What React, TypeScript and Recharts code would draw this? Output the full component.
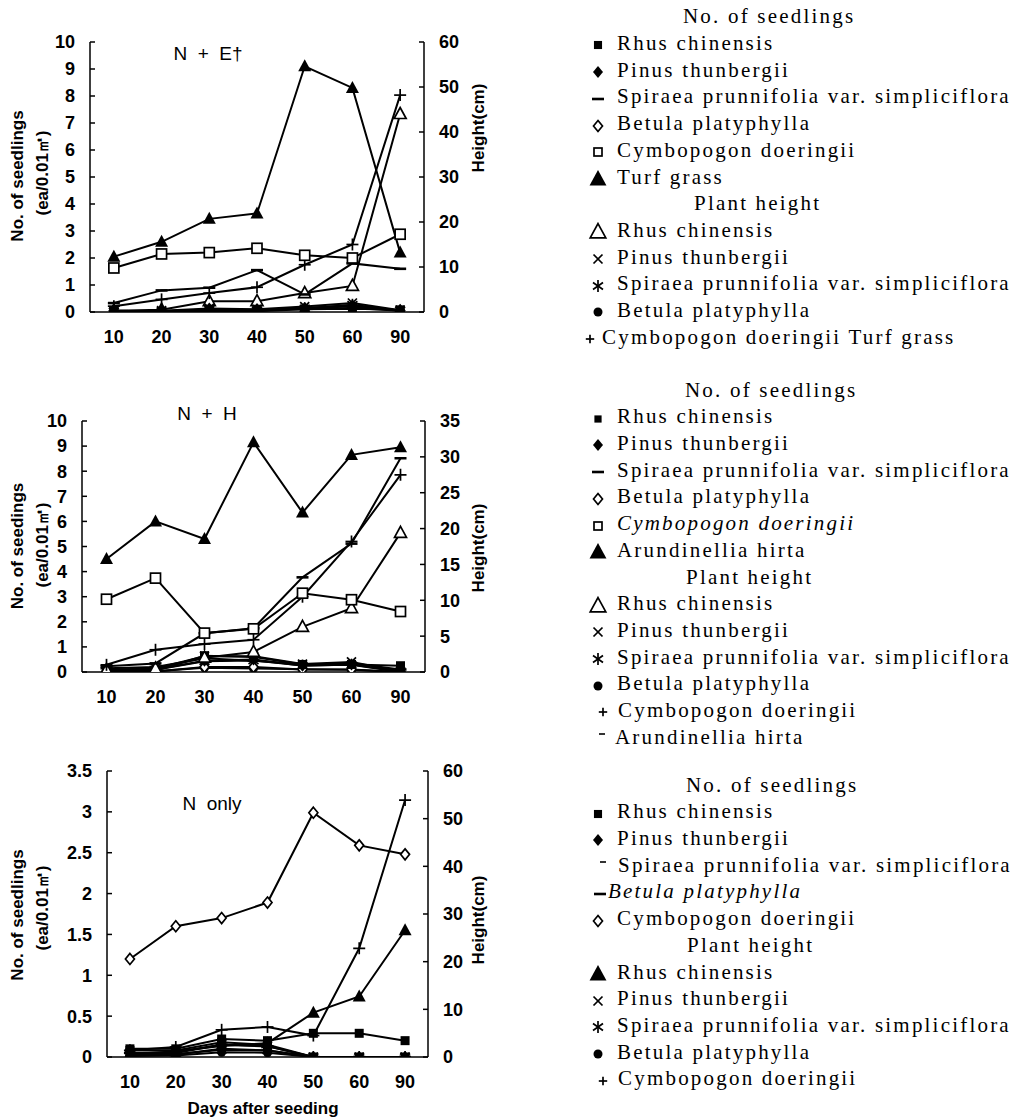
import React from 'react';
import { ComposedChart, Line, XAxis, YAxis } from 'recharts';

const days = ['10', '20', '30', '40', '50', '60', '90'];

// ---------- Panel 1: N + E† (seedlings: ea/0.01m², height: cm) ----------
const neRhusN = [0.05, 0.02, 0.05, 0.03, 0.1, 0.12, 0.08];
const nePinusN = [0.02, 0.0, 0.08, 0.05, 0.15, 0.25, 0.05];
const neSpiraeaN = [0.33, 0.8, 0.9, 1.55, 0.65, 1.8, 1.6];
const neBetulaN = [0.05, 0.02, 0.1, 0.08, 0.1, 0.15, 0.05];
const neCymboN = [1.63, 2.15, 2.2, 2.36, 2.1, 2.0, 2.88];
const neTurfN = [2.05, 2.6, 3.45, 3.65, 9.1, 8.3, 2.2];
const neRhusH = [0.3, 0.5, 2.4, 2.4, 4.2, 5.8, 44];
const nePinusH = [0.2, 0.3, 0.8, 0.6, 1.2, 2.0, 0.4];
const neSpiraeaH = [0.1, 0.2, 0.5, 0.4, 0.8, 1.6, 0.3];
const neBetulaH = [0.1, 0.1, 0.4, 0.3, 0.9, 1.2, 0.3];
const neCymboH = [1.3, 2.8, 4.2, 5.5, 10.5, 15, 48.2];

// ---------- Panel 2: N + H ----------
const nhRhusN = [0.1, 0.05, 0.65, 0.6, 0.3, 0.3, 0.25];
const nhPinusN = [0.05, 0.1, 0.45, 0.5, 0.25, 0.3, 0.02];
const nhSpiraeaN = [0.15, 0.2, 0.55, 0.45, 0.3, 0.35, 0.1];
const nhBetulaN = [0.02, 0.02, 0.2, 0.2, 0.1, 0.1, 0.0];
const nhCymboN = [2.9, 3.74, 1.55, 1.72, 3.14, 2.88, 2.41];
const nhArundN = [4.5, 6.0, 5.3, 9.15, 6.35, 8.65, 8.95];
const nhRhusH = [0.3, 0.5, 2.0, 2.8, 6.3, 8.9, 19.4];
const nhPinusH = [0.3, 0.5, 2.2, 2.2, 1.1, 1.4, 0.1];
const nhSpiraeaH = [0.2, 0.3, 1.5, 1.6, 0.9, 1.0, 0.0];
const nhBetulaH = [0.1, 0.1, 0.6, 0.5, 0.4, 0.3, 0.0];
const nhCymboH = [1.0, 3.1, 3.9, 4.5, 10.5, 18.2, 27.5];
const nhArundH = [0.8, 1.2, 5.4, 6.1, 13.2, 17.9, 29.8];

// ---------- Panel 3: N only ----------
const noRhusN = [0.1, 0.1, 0.22, 0.2, 0.29, 0.29, 0.2];
const noPinusN = [0.02, 0.03, 0.1, 0.08, 0, 0, 0];
const noSpiraeaN = [0.05, 0.05, 0.15, 0.13, 0, 0, 0];
const noBetulaN = [0.08, 0.08, 0.18, 0.15, 0, 0, 0];
const noCymboN = [1.2, 1.6, 1.7, 1.89, 2.99, 2.59, 2.48];
const noRhusH = [0.6, 1.2, 2.3, 2.9, 9.3, 12.7, 26.6];
const noPinusH = [0.8, 1.0, 2.6, 2.3, 0, 0, 0];
const noSpiraeaH = [0.4, 0.6, 1.5, 1.4, 0, 0, 0];
const noBetulaH = [0.2, 0.3, 1.0, 0.9, 0, 0, 0];
const noCymboH = [1.4, 2.1, 5.7, 6.3, 4.5, 22.8, 53.9];

// axis ticks
const seedTicks10 = [0, 1, 2, 3, 4, 5, 6, 7, 8, 9, 10];
const seedTicks35 = [0, 0.5, 1, 1.5, 2, 2.5, 3, 3.5];
const heightTicks60 = [0, 10, 20, 30, 40, 50, 60];
const heightTicks35 = [0, 5, 10, 15, 20, 25, 30, 35];

type Shape = 'sq' | 'dia' | 'dash' | 'hdash' | 'odia' | 'osq' | 'tri' | 'otri' | 'x' | 'ast' | 'dot' | 'plus';
type S = { key: string; values: number[]; axis: 'L' | 'R'; shape: Shape };

const SANS = '"Liberation Sans", Arial, Helvetica, sans-serif';
const SERIF = '"Liberation Serif", "Times New Roman", serif';

function marker(shape: Shape, cx: number, cy: number, key: any, k = 1) {
  const sw = 1.7;
  switch (shape) {
    case 'sq':
      return <rect key={key} x={cx - 4.5 * k} y={cy - 4.5 * k} width={9 * k} height={9 * k} fill="#000" />;
    case 'dia':
      return <polygon key={key} points={`${cx},${cy - 6 * k} ${cx + 5 * k},${cy} ${cx},${cy + 6 * k} ${cx - 5 * k},${cy}`} fill="#000" />;
    case 'odia':
      return <polygon key={key} points={`${cx},${cy - 5.5 * k} ${cx + 4.5 * k},${cy} ${cx},${cy + 5.5 * k} ${cx - 4.5 * k},${cy}`} fill="#fff" stroke="#000" strokeWidth={sw} />;
    case 'osq':
      return <rect key={key} x={cx - 5 * k} y={cy - 5 * k} width={10 * k} height={10 * k} fill="#fff" stroke="#000" strokeWidth={sw} />;
    case 'tri':
      return <polygon key={key} points={`${cx},${cy - 7 * k} ${cx + 6.5 * k},${cy + 5 * k} ${cx - 6.5 * k},${cy + 5 * k}`} fill="#000" />;
    case 'otri':
      return <polygon key={key} points={`${cx},${cy - 6.5 * k} ${cx + 6 * k},${cy + 4.5 * k} ${cx - 6 * k},${cy + 4.5 * k}`} fill="#fff" stroke="#000" strokeWidth={sw} />;
    case 'x':
      return (
        <g key={key} stroke="#000" strokeWidth={sw}>
          <line x1={cx - 4.5 * k} y1={cy - 4.5 * k} x2={cx + 4.5 * k} y2={cy + 4.5 * k} />
          <line x1={cx - 4.5 * k} y1={cy + 4.5 * k} x2={cx + 4.5 * k} y2={cy - 4.5 * k} />
        </g>
      );
    case 'ast':
      return (
        <g key={key} stroke="#000" strokeWidth={sw}>
          <line x1={cx} y1={cy - 6 * k} x2={cx} y2={cy + 6 * k} />
          <line x1={cx - 5 * k} y1={cy - 3.5 * k} x2={cx + 5 * k} y2={cy + 3.5 * k} />
          <line x1={cx - 5 * k} y1={cy + 3.5 * k} x2={cx + 5 * k} y2={cy - 3.5 * k} />
        </g>
      );
    case 'dot':
      return <circle key={key} cx={cx} cy={cy} r={4.5 * k} fill="#000" />;
    case 'plus':
      return (
        <g key={key} stroke="#000" strokeWidth={sw}>
          <line x1={cx - 6 * k} y1={cy} x2={cx + 6 * k} y2={cy} />
          <line x1={cx} y1={cy - 6 * k} x2={cx} y2={cy + 6 * k} />
        </g>
      );
    case 'dash':
      return <line key={key} x1={cx - 6 * k} y1={cy} x2={cx + 6 * k} y2={cy} stroke="#000" strokeWidth={2.6} />;
    case 'hdash':
      return <line key={key} x1={cx - 3 * k} y1={cy} x2={cx + 3 * k} y2={cy} stroke="#000" strokeWidth={1.6} />;
  }
  return null;
}

const panel1: S[] = [
  { key: 'rhusH', values: neRhusH, axis: 'R', shape: 'otri' },
  { key: 'pinusH', values: nePinusH, axis: 'R', shape: 'x' },
  { key: 'spiraeaH', values: neSpiraeaH, axis: 'R', shape: 'ast' },
  { key: 'betulaH', values: neBetulaH, axis: 'R', shape: 'dot' },
  { key: 'cymboH', values: neCymboH, axis: 'R', shape: 'plus' },
  { key: 'betulaN', values: neBetulaN, axis: 'L', shape: 'odia' },
  { key: 'pinusN', values: nePinusN, axis: 'L', shape: 'dia' },
  { key: 'rhusN', values: neRhusN, axis: 'L', shape: 'sq' },
  { key: 'spiraeaN', values: neSpiraeaN, axis: 'L', shape: 'dash' },
  { key: 'cymboN', values: neCymboN, axis: 'L', shape: 'osq' },
  { key: 'turfN', values: neTurfN, axis: 'L', shape: 'tri' },
];

const panel2: S[] = [
  { key: 'pinusH', values: nhPinusH, axis: 'R', shape: 'x' },
  { key: 'spiraeaH', values: nhSpiraeaH, axis: 'R', shape: 'ast' },
  { key: 'betulaH', values: nhBetulaH, axis: 'R', shape: 'dot' },
  { key: 'betulaN', values: nhBetulaN, axis: 'L', shape: 'odia' },
  { key: 'spiraeaN', values: nhSpiraeaN, axis: 'L', shape: 'dash' },
  { key: 'pinusN', values: nhPinusN, axis: 'L', shape: 'dia' },
  { key: 'rhusN', values: nhRhusN, axis: 'L', shape: 'sq' },
  { key: 'rhusH', values: nhRhusH, axis: 'R', shape: 'otri' },
  { key: 'cymboH', values: nhCymboH, axis: 'R', shape: 'plus' },
  { key: 'arundH', values: nhArundH, axis: 'R', shape: 'dash' },
  { key: 'cymboN', values: nhCymboN, axis: 'L', shape: 'osq' },
  { key: 'arundN', values: nhArundN, axis: 'L', shape: 'tri' },
];

const panel3: S[] = [
  { key: 'pinusH', values: noPinusH, axis: 'R', shape: 'x' },
  { key: 'spiraeaH', values: noSpiraeaH, axis: 'R', shape: 'ast' },
  { key: 'betulaH', values: noBetulaH, axis: 'R', shape: 'dot' },
  { key: 'pinusN', values: noPinusN, axis: 'L', shape: 'dia' },
  { key: 'spiraeaN', values: noSpiraeaN, axis: 'L', shape: 'dash' },
  { key: 'betulaN', values: noBetulaN, axis: 'L', shape: 'sq' },
  { key: 'rhusN', values: noRhusN, axis: 'L', shape: 'sq' },
  { key: 'rhusH', values: noRhusH, axis: 'R', shape: 'tri' },
  { key: 'cymboH', values: noCymboH, axis: 'R', shape: 'plus' },
  { key: 'cymboN', values: noCymboN, axis: 'L', shape: 'odia' },
];

type PanelProps = {
  top: number;
  height: number;
  marginTop: number;
  leftW: number;
  rightW: number;
  series: S[];
  lDomain: [number, number];
  lTicks: number[];
  rDomain: [number, number];
  rTicks: number[];
};

const tickStyle = { fill: '#000', fontSize: 18, fontWeight: 'bold', fontFamily: SANS } as any;
const axisStroke = { stroke: '#000', strokeWidth: 1.5 };

function Panel(p: PanelProps) {
  const data = days.map((d, i) => {
    const r: any = { day: d };
    p.series.forEach((s) => {
      r[s.key] = s.values[i];
    });
    return r;
  });
  return (
    <div style={{ position: 'absolute', left: 0, top: p.top }}>
      <ComposedChart width={500} height={p.height} data={data} margin={{ top: p.marginTop, right: 0, bottom: 0, left: 0 }}>
        <XAxis
          dataKey="day"
          scale="band"
          height={38}
          interval={0}
          tickLine={false}
          tickSize={0}
          tickMargin={18}
          axisLine={axisStroke}
          tick={tickStyle}
        />
        <YAxis
          yAxisId="L"
          orientation="left"
          width={p.leftW}
          domain={p.lDomain}
          ticks={p.lTicks}
          allowDataOverflow
          interval={0}
          tickSize={-5}
          tickMargin={20}
          axisLine={axisStroke}
          tickLine={axisStroke}
          tick={tickStyle}
        />
        <YAxis
          yAxisId="R"
          orientation="right"
          width={p.rightW}
          domain={p.rDomain}
          ticks={p.rTicks}
          allowDataOverflow
          interval={0}
          tickSize={-5}
          tickMargin={20}
          axisLine={axisStroke}
          tickLine={axisStroke}
          tick={tickStyle}
        />
        {p.series.map((s) => (
          <Line
            key={s.key}
            type="linear"
            yAxisId={s.axis}
            dataKey={s.key}
            stroke="#000"
            strokeWidth={2}
            isAnimationActive={false}
            activeDot={false}
            dot={(d: any) => marker(s.shape, d.cx, d.cy, `${s.key}-${d.index}`)}
          />
        ))}
      </ComposedChart>
    </div>
  );
}

// ---------- legends ----------
type Row = { header?: boolean; text: string; x?: number; sym?: Shape; symX?: number; textX?: number; italic?: boolean; symDy?: number; k?: number };

const legend1: Row[] = [
  { header: true, text: 'No. of seedlings', x: 683 },
  { sym: 'sq', text: 'Rhus chinensis', k: 0.9 },
  { sym: 'dia', text: 'Pinus thunbergii' },
  { sym: 'dash', text: 'Spiraea prunnifolia var. simpliciflora' },
  { sym: 'odia', text: 'Betula platyphylla' },
  { sym: 'osq', text: 'Cymbopogon doeringii', k: 0.8 },
  { sym: 'tri', text: 'Turf grass', k: 1.3 },
  { header: true, text: 'Plant height', x: 694 },
  { sym: 'otri', text: 'Rhus chinensis', k: 1.3 },
  { sym: 'x', text: 'Pinus thunbergii' },
  { sym: 'ast', text: 'Spiraea prunnifolia var. simpliciflora' },
  { sym: 'dot', text: 'Betula platyphylla' },
  { sym: 'plus', text: 'Cymbopogon doeringii Turf grass', symX: 590, textX: 602, k: 0.7 },
];

const legend2: Row[] = [
  { header: true, text: 'No. of seedlings', x: 685 },
  { sym: 'sq', text: 'Rhus chinensis', k: 0.8 },
  { sym: 'dia', text: 'Pinus thunbergii' },
  { sym: 'dash', text: 'Spiraea prunnifolia var. simpliciflora' },
  { sym: 'odia', text: 'Betula platyphylla' },
  { sym: 'osq', text: 'Cymbopogon doeringii', italic: true, k: 0.8 },
  { sym: 'tri', text: 'Arundinellia hirta', k: 1.3 },
  { header: true, text: 'Plant height', x: 686 },
  { sym: 'otri', text: 'Rhus chinensis', k: 1.3 },
  { sym: 'x', text: 'Pinus thunbergii' },
  { sym: 'ast', text: 'Spiraea prunnifolia var. simpliciflora' },
  { sym: 'dot', text: 'Betula platyphylla' },
  { sym: 'plus', text: 'Cymbopogon doeringii', symX: 603, textX: 618, k: 0.7 },
  { sym: 'hdash', text: 'Arundinellia hirta', symX: 602, textX: 615, symDy: -5 },
];

const legend3: Row[] = [
  { header: true, text: 'No. of seedlings', x: 686 },
  { sym: 'sq', text: 'Rhus chinensis', k: 0.9 },
  { sym: 'dia', text: 'Pinus thunbergii' },
  { sym: 'hdash', text: 'Spiraea prunnifolia var. simpliciflora', symX: 603, textX: 618, symDy: -5 },
  { sym: 'dash', text: 'Betula platyphylla', italic: true, symX: 600, textX: 608 },
  { sym: 'odia', text: 'Cymbopogon doeringii' },
  { header: true, text: 'Plant height', x: 687 },
  { sym: 'tri', text: 'Rhus chinensis', k: 1.3 },
  { sym: 'x', text: 'Pinus thunbergii' },
  { sym: 'ast', text: 'Spiraea prunnifolia var. simpliciflora' },
  { sym: 'dot', text: 'Betula platyphylla' },
  { sym: 'plus', text: 'Cymbopogon doeringii', symX: 603, textX: 618, k: 0.7 },
];

const ROW_H = 26.7;

function LegendBlock({ rows, top }: { rows: Row[]; top: number }) {
  return (
    <>
      {rows.map((r, i) => {
        const cy = top + i * ROW_H;
        const textStyle: React.CSSProperties = {
          position: 'absolute',
          top: cy - ROW_H / 2,
          height: ROW_H,
          lineHeight: `${ROW_H}px`,
          fontFamily: SERIF,
          fontSize: 21,
          letterSpacing: '2.2px',
          whiteSpace: 'nowrap',
          color: '#000',
          fontStyle: r.italic ? 'italic' : 'normal',
        };
        if (r.header) {
          return (
            <div key={i} style={{ ...textStyle, left: r.x }}>
              {r.text}
            </div>
          );
        }
        const symX = r.symX ?? 598;
        const textX = r.textX ?? 617;
        return (
          <React.Fragment key={i}>
            <svg style={{ position: 'absolute', left: symX - 10, top: cy - 10 + 2 }} width={20} height={20}>
              {marker(r.sym as Shape, 10, 10 + (r.symDy ?? 0), 'm', r.k ?? 1)}
            </svg>
            <div style={{ ...textStyle, left: textX }}>{r.text}</div>
          </React.Fragment>
        );
      })}
    </>
  );
}

function Overlay() {
  const lab = { fontFamily: SANS, fontWeight: 'bold', fontSize: 17, fill: '#000' } as any;
  const ttl = { fontFamily: SANS, fontSize: 19, fill: '#000', whiteSpace: 'pre' } as any;
  const rot = (x: number, y: number, t: string, key: string) => (
    <text key={key} x={x} y={y} transform={`rotate(-90 ${x} ${y})`} textAnchor="middle" dominantBaseline="central" {...lab}>
      {t}
    </text>
  );
  return (
    <svg style={{ position: 'absolute', left: 0, top: 0, pointerEvents: 'none' }} width={1026} height={1119}>
      {rot(17, 176, 'No. of seedlings', 'a1')}
      {rot(42, 173, '(ea/0.01㎡)', 'a2')}
      {rot(478, 128, 'Height(cm)', 'a3')}
      {rot(17, 546, 'No. of seedings', 'b1')}
      {rot(42, 545, '(ea/0.01㎡)', 'b2')}
      {rot(478, 548, 'Height(cm)', 'b3')}
      {rot(17, 915, 'No. of seedlings', 'c1')}
      {rot(42, 908, '(ea/0.01㎡)', 'c2')}
      {rot(478, 920, 'Height(cm)', 'c3')}
      <text x={208} y={53} textAnchor="middle" dominantBaseline="central" {...ttl} xmlSpace="preserve">N  +  E†</text>
      <text x={207} y={413} textAnchor="middle" dominantBaseline="central" {...ttl} xmlSpace="preserve">N  +  H</text>
      <text x={212} y={803} textAnchor="middle" dominantBaseline="central" {...ttl} xmlSpace="preserve">N  only</text>
      <text x={263} y={1108} textAnchor="middle" dominantBaseline="central" {...lab}>Days after seeding</text>
    </svg>
  );
}

export default function App() {
  return (
    <div style={{ position: 'absolute', left: 0, top: 0, width: 1026, height: 1119, background: '#fff', overflow: 'hidden' }}>
      <Panel top={0} height={350} marginTop={42} leftW={90} rightW={76} series={panel1} lDomain={[0, 10]} lTicks={seedTicks10} rDomain={[0, 60]} rTicks={heightTicks60} />
      <Panel top={380} height={330} marginTop={41} leftW={82} rightW={75} series={panel2} lDomain={[0, 10]} lTicks={seedTicks10} rDomain={[0, 35]} rTicks={heightTicks35} />
      <Panel top={730} height={365} marginTop={41} leftW={107} rightW={72} series={panel3} lDomain={[0, 3.5]} lTicks={seedTicks35} rDomain={[0, 60]} rTicks={heightTicks60} />
      <Overlay />
      <LegendBlock rows={legend1} top={16.7} />
      <LegendBlock rows={legend2} top={390} />
      <LegendBlock rows={legend3} top={785} />
    </div>
  );
}
